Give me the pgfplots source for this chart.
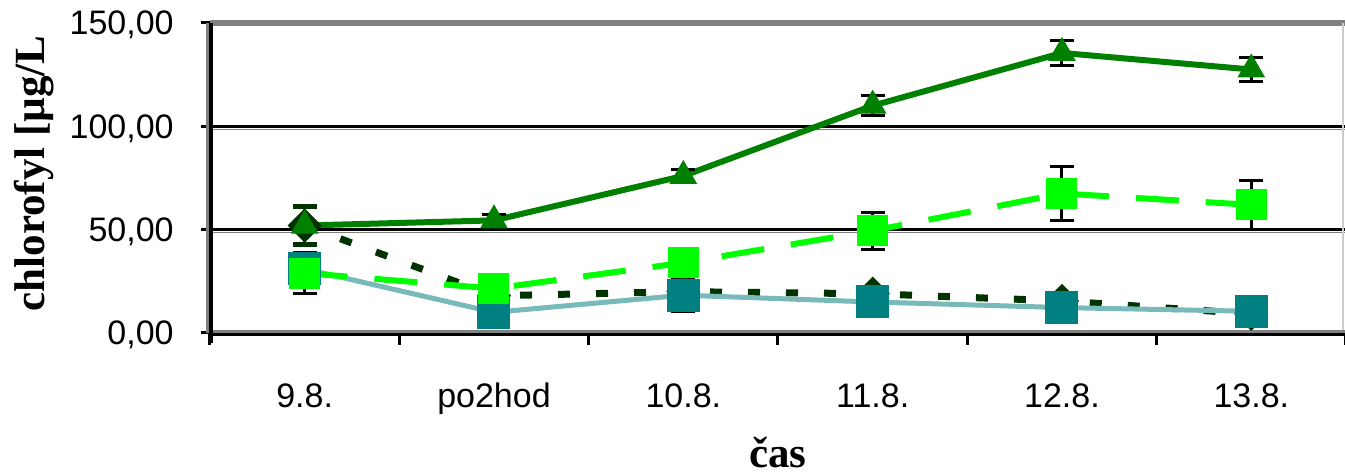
\documentclass[border=0pt]{standalone}
\usepackage{pgfplots}
\pgfplotsset{compat=1.18}
\usepackage{pgfplotstable}
\usepackage{fontspec}
\setmainfont{Liberation Sans}
\newfontfamily\seriffont{Liberation Serif}
\definecolor{cT}{HTML}{008000}
\definecolor{cG}{HTML}{00FF00}
\definecolor{cD}{HTML}{003300}
\definecolor{cS}{HTML}{008080}
\definecolor{cSl}{RGB}{120,185,185}
\definecolor{bord}{HTML}{808080}

\pgfplotstableread{
x y e
0 52 0
1 54.5 3
2 76 3
3 110 5
4 135.5 6
5 127.5 6
}\tabT
\pgfplotstableread{
x y e
0 29 10
1 21.5 0
2 34 0
3 49.5 9
4 67.5 13
5 62 12
}\tabG
\pgfplotstableread{
x y e
0 52 9
1 18 0
2 20 0
3 19 0
4 15.5 0
5 9.3 0
}\tabD
\pgfplotstableread{
x y e
0 31 0
1 10 0
2 18.3 8
3 15 0
4 12.3 0
5 10.5 0
}\tabS

\begin{document}
\begin{tikzpicture}
\begin{axis}[
 scale only axis, width=568pt, height=155pt,
 at={(0,0)}, anchor=south west,
 xmin=-0.5, xmax=5.5, ymin=0, ymax=150,
 axis line style={draw=none},
 clip=false,
 xtick pos=bottom, ytick pos=left,
 xtick={0,...,5},
 xticklabels={9.8.,po2hod,10.8.,11.8.,12.8.,13.8.},
 minor xtick={-0.5,0.5,...,5.5},
 ytick={0,50,100,150},
 yticklabels={{0,00},{50,00},{100,00},{150,00}},
 tick align=center,
 major tick length=9pt,
 minor tick length=6pt,
 every major x tick/.append style={draw=none},
 every minor x tick/.append style={yshift=-3pt, line width=1.5pt, black},
 every major y tick/.append style={line width=1.5pt, black},
 tick label style={font=\fontsize{17}{20}\selectfont},
 yticklabel style={anchor=east, inner sep=0pt, text depth=0pt, xshift=-13.5pt},
 xticklabel style={anchor=base, inner sep=0pt, yshift=-32.5pt},
 xlabel={čas},
 ylabel={chlorofyl [µg/L},
 every axis x label/.style={at={(rel axis cs:0.5,0)}, anchor=base, inner sep=0pt, text depth=0pt, yshift=-67pt, font=\seriffont\bfseries\fontsize{21.5}{24}\selectfont},
 every axis y label/.style={at={([xshift=-88pt]rel axis cs:0,0.515)}, rotate=90, anchor=center, font=\seriffont\bfseries\fontsize{21.5}{24}\selectfont},
]
% frame and grid
\draw[bord, line width=0.5pt] ([yshift=-1.5pt]axis cs:-0.5,50) -- ([yshift=-1.5pt]axis cs:5.5,50);
\draw[black, line width=1.5pt] (axis cs:-0.5,50) -- (axis cs:5.5,50);
\draw[bord, line width=0.5pt] ([yshift=-1.5pt]axis cs:-0.5,100) -- ([yshift=-1.5pt]axis cs:5.5,100);
\draw[black, line width=1.5pt] (axis cs:-0.5,100) -- (axis cs:5.5,100);
\draw[bord, line width=3pt] (axis cs:-0.5,150) -- (axis cs:5.5,150);
\draw[bord!40, line width=0.6pt] ([xshift=-1.5pt]axis cs:5.5,0) -- ([xshift=-1.5pt]axis cs:5.5,150);
\draw[bord, line width=1.5pt] ([yshift=0.75pt]axis cs:-0.5,0) -- ([yshift=0.75pt]axis cs:5.5,0);
\draw[black, line width=1.5pt] ([yshift=-0.75pt]axis cs:-0.5,0) -- ([yshift=-0.75pt]axis cs:5.5,0);
\draw[bord, line width=1.5pt] ([xshift=-1.25pt]axis cs:-0.5,0) -- ([xshift=-1.25pt]axis cs:-0.5,150);
\draw[black, line width=2pt] ([xshift=0.5pt,yshift=-5pt]axis cs:-0.5,0) -- ([xshift=0.5pt]axis cs:-0.5,150);

\addplot[cD, line width=3.5pt, dash pattern=on 6pt off 13pt,
  mark=square*, mark size=5.8pt,
  mark options={solid, rotate=45, fill=cD, draw=cD, line width=0.5pt},
  error bars/.cd, y dir=both, y explicit,
  error bar style={solid, line width=1.5pt, cD},
  error mark options={solid, rotate=90, mark size=6pt, line width=2.5pt, cD}]
  table[x=x, y=y, y error=e] {\tabD};

\addplot[cSl, line width=2.5pt,
  mark=square*, mark size=8pt,
  mark options={solid, fill=cS, draw=cS, line width=0.5pt, rounded corners=1.5pt},
  error bars/.cd, y dir=both, y explicit,
  error bar style={solid, line width=1.5pt, black},
  error mark options={solid, rotate=90, mark size=6pt, line width=1.5pt, black}]
  table[x=x, y=y, y error=e] {\tabS};

\addplot[cG, line width=3pt, dash pattern=on 21.5pt off 13.5pt,
  mark=square*, mark size=7.5pt,
  mark options={solid, fill=cG, draw=cG, line width=0.5pt},
  error bars/.cd, y dir=both, y explicit,
  error bar style={solid, line width=1.5pt, black},
  error mark options={solid, rotate=90, mark size=6pt, line width=1.5pt, black}]
  table[x=x, y=y, y error=e] {\tabG};

\addplot[cT, line width=3pt,
  mark=triangle*, mark size=7.5pt,
  mark options={solid, fill=cT, draw=cT, line width=0.5pt},
  error bars/.cd, y dir=both, y explicit,
  error bar style={solid, line width=1.5pt, black},
  error mark options={solid, rotate=90, mark size=6pt, line width=1.5pt, black}]
  table[x=x, y=y, y error=e] {\tabT};
\end{axis}
\pgfresetboundingbox
\useasboundingbox (-105pt,-71.5pt) rectangle (567.5pt,166.5pt);
\end{tikzpicture}
\end{document}
